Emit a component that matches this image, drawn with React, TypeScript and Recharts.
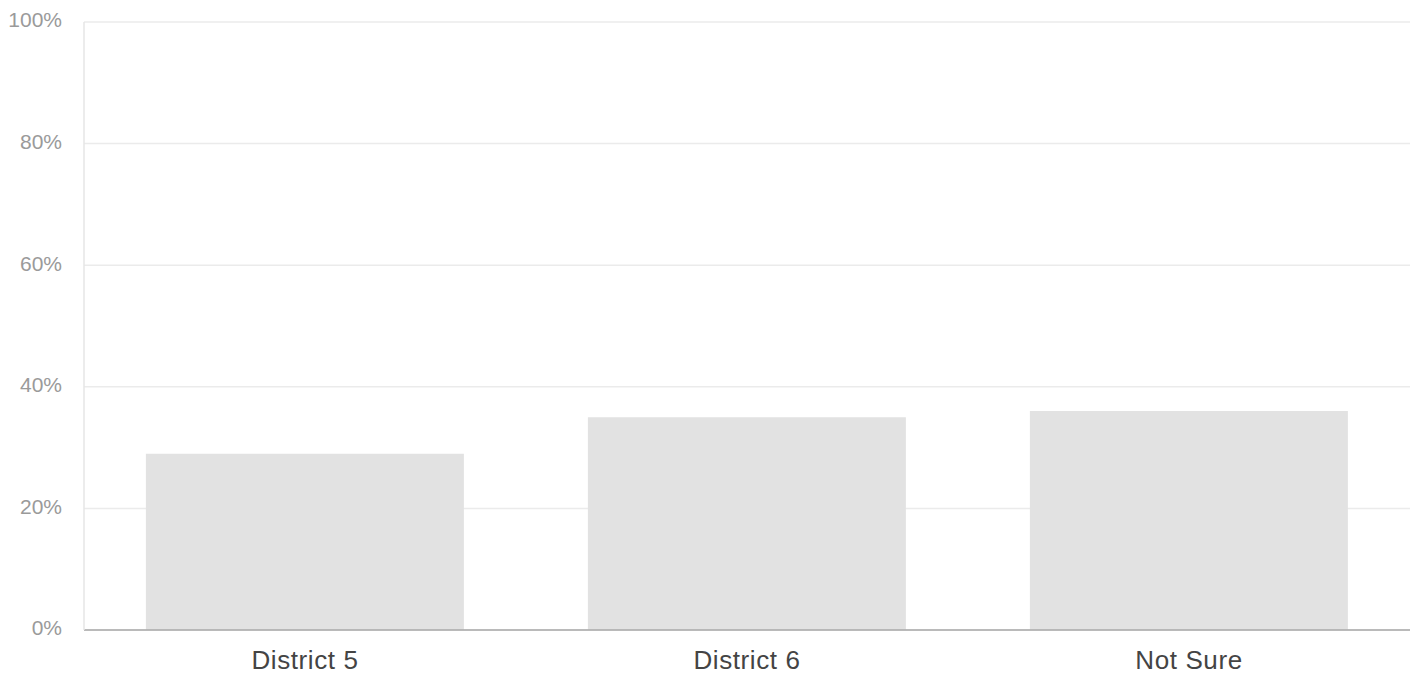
import React from "react";
import { BarChart, Bar, XAxis, YAxis, CartesianGrid } from "recharts";

const categories = ["District 5", "District 6", "Not Sure"];
const shares = [29, 35, 36];
const yTicks = [0, 20, 40, 60, 80, 100];

const data = categories.map((name, i) => ({ name, value: shares[i] }));

export default function App() {
  return (
    <div style={{ position: "absolute", left: 0, top: 0, background: "#fff" }}>
      <BarChart
        width={1420}
        height={680}
        data={data}
        margin={{ top: 22, right: 10, bottom: 0, left: 0 }}
        barCategoryGap="14%"
      >
        <CartesianGrid horizontal vertical={false} stroke="#ebebeb" strokeWidth={1.5} />
        <XAxis
          dataKey="name"
          height={50}
          tickLine={false}
          tickSize={0}
          tickMargin={21}
          axisLine={{ stroke: "#a8a8a8", strokeWidth: 1.5 }}
          tick={{ fill: "#444444", fontSize: 26, letterSpacing: 0.6, fontFamily: "Liberation Sans, Arial, sans-serif" }}
        />
        <YAxis
          width={84}
          domain={[0, 100]}
          ticks={yTicks}
          tickFormatter={(v: number) => `${v}%`}
          tickLine={false}
          tickSize={0}
          tickMargin={22}
          axisLine={{ stroke: "#e6e6e6", strokeWidth: 1.5 }}
          tick={{ fill: "#9a9a9a", fontSize: 21, fontFamily: "Liberation Sans, Arial, sans-serif", dy: -2 }}
        />
        <Bar dataKey="value" fill="#e2e2e2" isAnimationActive={false} />
      </BarChart>
    </div>
  );
}
